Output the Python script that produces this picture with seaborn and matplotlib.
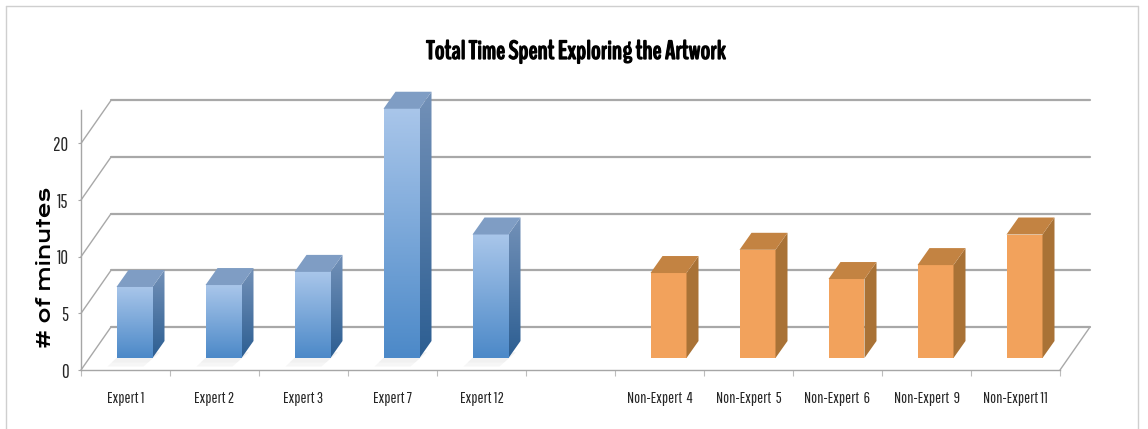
import numpy as np
import pandas as pd
import matplotlib
matplotlib.use("Agg")
import matplotlib.pyplot as plt
import matplotlib.patheffects as pe
from matplotlib.colors import LinearSegmentedColormap
from matplotlib.lines import Line2D
from matplotlib.patches import Polygon
from matplotlib import font_manager as fm
import seaborn as sns

categories = ["Expert 1", "Expert 2", "Expert 3", "Expert 7", "Expert 12", " ",
              "Non-Expert  4", "Non-Expert  5", "Non-Expert  6", "Non-Expert  9", "Non-Expert 11"]
minutes = [6.27, 6.44, 7.6, 22.0, 10.9, np.nan, 7.5, 9.55, 6.97, 8.2, 10.9]
groups = ["Expert"] * 6 + ["Non-Expert"] * 5
y_ticks = [0, 5, 10, 15, 20]

W, H = 1148, 429
PX_Y = 11.33
PX_X = 89.0
sns.set_theme(style="white")
installed = {f.name for f in fm.fontManager.ttflist}
def pick(*names):
    return [n for n in names if n in installed] + ["DejaVu Sans"]
narrow = pick("Pathway Gothic One", "PT Sans Narrow", "Lato")
title_font = pick("BenchNine", "PT Sans Narrow", "Lato")
wide = pick("Krona One")
plt.rcParams["font.family"] = narrow

fig = plt.figure(figsize=(W / 100, H / 100), dpi=100, facecolor="white")

def axes_px(left, right, top, bottom):
    return fig.add_axes([left / W, (H - bottom) / H, (right - left) / W, (bottom - top) / H])

ax = axes_px(81, 1060, 110, 370)
ax.set_zorder(1)
ax.set_xlim(-0.5, 10.5)
ax.set_ylim(0, 260 / PX_Y)
ax.patch.set_alpha(0)
for s in ["top", "right"]:
    ax.spines[s].set_visible(False)
for s in ["left", "bottom"]:
    ax.spines[s].set_color("#a6a6a6")
    ax.spines[s].set_linewidth(1.0)
ax.set_xticks(range(len(categories)))
ax.set_xticklabels(categories, fontsize=11.5, color="#262626")
ax.tick_params(axis="x", length=0, pad=15)
ax.set_xticks(np.arange(-0.5, 11, 1), minor=True)
ax.tick_params(axis="x", which="minor", length=4, width=0.8, color="#bdbdbd", bottom=True)
ax.set_yticks(y_ticks)
ax.set_yticklabels([str(v) for v in y_ticks], fontsize=13.5, color="#262626")
ax.tick_params(axis="y", length=2, width=0.8, color="#a6a6a6", left=True, pad=7)

wall_dx = 30 / PX_X
wall_dy = 43 / PX_Y
grey = "#a8a8a8"
for v in y_ticks:
    yy = v + wall_dy
    ax.plot([-0.5 + wall_dx, 10.5 + wall_dx], [yy, yy], color=grey, lw=1.6, clip_on=False, zorder=1)
    ax.plot([-0.5, -0.5 + wall_dx], [v, yy], color=grey, lw=1.0, clip_on=False, zorder=1)
ax.plot([10.5, 10.5 + wall_dx], [0, wall_dy], color=grey, lw=1.0, clip_on=False, zorder=1)
ax.set_xlim(-0.5, 10.5)
ax.set_ylim(0, 260 / PX_Y)

bx = axes_px(90, 1069, 358 - 26 * PX_Y, 358)
bx.set_zorder(2)
bx.patch.set_alpha(0)
df = pd.DataFrame({"participant": categories, "minutes": minutes, "group": groups})
sns.barplot(data=df, x="participant", y="minutes", hue="group", order=categories,
            palette={"Expert": "#7aa8da", "Non-Expert": "#f2a25c"}, dodge=False, saturation=1,
            width=36 / PX_X, legend=False, errorbar=None, ax=bx, linewidth=0)
bx.set_xlim(-0.5, 10.5)
bx.set_ylim(0, 26)
bx.axis("off")

dx = 12 / PX_X
dy = 17 / PX_Y
front_blue = LinearSegmentedColormap.from_list("fb", ["#a9c6ea", "#4c89c8"])
side_blue = LinearSegmentedColormap.from_list("sb", ["#7391b8", "#2c5e92"])
grad = np.linspace(0, 1, 128).reshape(-1, 1)

for bar in list(bx.patches):
    v = bar.get_height()
    if not np.isfinite(v) or v <= 0:
        continue
    x0 = bar.get_x()
    x1 = x0 + bar.get_width()
    is_expert = groups[int(round(x0 + bar.get_width() / 2))] == "Expert"
    side_pts = [(x1, 0), (x1 + dx, dy), (x1 + dx, v + dy), (x1, v)]
    top_pts = [(x0, v), (x1, v), (x1 + dx, v + dy), (x0 + dx, v + dy)]
    if is_expert:
        for shrink, shade in [(0.75, "#f6f6f6"), (0.4, "#f1f1f1")]:
            bx.add_patch(Polygon([(x0 - dx * shrink, -shrink), (x1 - dx * shrink, -shrink),
                                  (x1 + dx * 0.6, 0.5), (x0, 0.0)],
                                 closed=True, fc=shade, ec="none", zorder=0.5, clip_on=False))
        bx.imshow(grad, cmap=front_blue, extent=(x0, x1, 0, v), aspect="auto", zorder=3)
        side = Polygon(side_pts, closed=True, fc="none", ec="none", transform=bx.transData)
        bx.add_patch(side)
        im2 = bx.imshow(grad, cmap=side_blue, extent=(x1, x1 + dx, 0, v + dy), aspect="auto", zorder=3)
        im2.set_clip_path(side)
        bx.add_patch(Polygon(top_pts, closed=True, fc="#7f9dc4", ec="none", zorder=3.5))
    else:
        bx.add_patch(Polygon(side_pts, closed=True, fc="#a97236", ec="none", zorder=3))
        bx.add_patch(Polygon(top_pts, closed=True, fc="#c38342", ec="none", zorder=3.5))
bx.set_xlim(-0.5, 10.5)
bx.set_ylim(0, 26)

title = fig.text(575.5 / W, 1 - 52 / H, "Total Time Spent Exploring the Artwork", ha="center", va="center",
                 fontsize=19, fontweight="bold", color="black", family=title_font)
title.set_path_effects([pe.withStroke(linewidth=0.9, foreground="black")])
fig.text(46 / W, 1 - 267 / H, "# of minutes", rotation=90, ha="center", va="center",
         fontsize=13.8, fontweight="bold", color="black", family=wide)

for xs, ys in [([6, 6], [6, H]), ([6, 1138], [6, 6]), ([1138, 1138], [6, H])]:
    fig.add_artist(Line2D([x / W for x in xs], [1 - y / H for y in ys], color="#cfcfcf", lw=1.0))

fig.savefig("out.png", dpi=100)
